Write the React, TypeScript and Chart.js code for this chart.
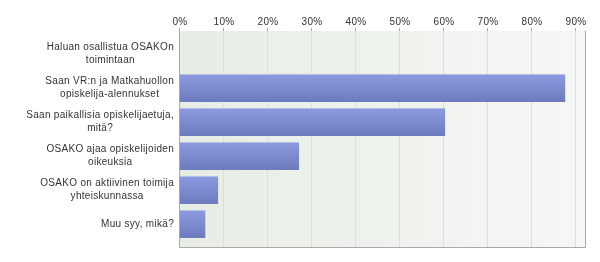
import React, { useEffect, useRef } from "react";
import { Chart, registerables } from "chart.js";

Chart.register(...registerables);

const categories: string[][] = [
  ["Haluan osallistua OSAKOn", "toimintaan"],
  ["Saan VR:n ja Matkahuollon", "opiskelija-alennukset"],
  ["Saan paikallisia opiskelijaetuja,", "mitä?"],
  ["OSAKO ajaa opiskelijoiden", "oikeuksia"],
  ["OSAKO on aktiivinen toimija", "yhteiskunnassa"],
  ["Muu syy, mikä?"],
];
const values: number[] = [0, 87.8, 60.5, 27.3, 8.9, 6.0];
const tickValues: number[] = [0, 10, 20, 30, 40, 50, 60, 70, 80, 90];
const axisMax = 92.5;

const FONT = '10px "Liberation Sans", Arial, sans-serif';
const TEXT = "#333333";

const decorPlugin = {
  id: "decor",
  beforeDatasetsDraw(chart: any) {
    const { ctx, chartArea } = chart;
    const x = chart.scales.x;
    const top = chartArea.top - 6;
    const bottom = chartArea.bottom + 6;
    const left = chartArea.left;
    const right = chartArea.right;
    ctx.save();
    const g = ctx.createLinearGradient(left, 0, right, 0);
    g.addColorStop(0, "#e7ede5");
    g.addColorStop(1, "#f5f7f4");
    ctx.fillStyle = g;
    ctx.fillRect(left, top, right - left, bottom - top);
    ctx.strokeStyle = "#dcdedb";
    ctx.lineWidth = 1;
    for (const v of tickValues) {
      if (v === 0) continue;
      const px = Math.round(x.getPixelForValue(v)) + 0.5;
      ctx.beginPath();
      ctx.moveTo(px, top);
      ctx.lineTo(px, bottom);
      ctx.stroke();
    }
    // tick marks above plot
    ctx.strokeStyle = "#a8a8a8";
    for (const v of tickValues) {
      const px = Math.round(x.getPixelForValue(v)) + 0.5;
      ctx.beginPath();
      ctx.moveTo(px, top - 3);
      ctx.lineTo(px, top);
      ctx.stroke();
    }
    // tick labels
    ctx.fillStyle = TEXT;
    ctx.font = FONT;
    (ctx as any).letterSpacing = "0.3px";
    ctx.textAlign = "center";
    ctx.textBaseline = "middle";
    for (const v of tickValues) {
      const px = x.getPixelForValue(v);
      ctx.fillText(v + "%", px + 1, top - 9);
    }
    ctx.restore();
  },
  afterDatasetsDraw(chart: any) {
    const { ctx, chartArea } = chart;
    const y = chart.scales.y;
    const top = chartArea.top - 6;
    const bottom = chartArea.bottom + 6;
    const left = Math.round(chartArea.left) + 0.5;
    const right = Math.round(chartArea.right) - 0.5;
    ctx.save();
    ctx.strokeStyle = "#a9a9a9";
    ctx.lineWidth = 1;
    ctx.beginPath();
    ctx.moveTo(left, top);
    ctx.lineTo(left, bottom + 0.5);
    ctx.lineTo(right, bottom + 0.5);
    ctx.lineTo(right, top);
    ctx.stroke();
    // category labels
    ctx.font = FONT;
    (ctx as any).letterSpacing = "0.3px";
    ctx.fillStyle = TEXT;
    ctx.textAlign = "center";
    ctx.textBaseline = "middle";
    const rightEdge = 174;
    const lh = 13;
    categories.forEach((lines, i) => {
      const cy = y.getPixelForValue(i);
      const w = Math.max(...lines.map((l) => ctx.measureText(l).width));
      const cx = rightEdge - w / 2;
      const start = cy - ((lines.length - 1) * lh) / 2;
      lines.forEach((l, j) => ctx.fillText(l, cx, start + j * lh));
    });
    ctx.restore();
  },
};

export default function App() {
  const ref = useRef<HTMLCanvasElement | null>(null);
  useEffect(() => {
    if (!ref.current) return;
    const chart = new Chart(ref.current, {
      type: "bar",
      data: {
        labels: categories.map((c) => c.join(" ")),
        datasets: [
          {
            data: values,
            barThickness: 28,
            backgroundColor: (context: any) => {
              const ch = context.chart;
              const ys = ch.scales.y;
              if (!ys || !ch.chartArea) return "#7d8cd2";
              const cy = ys.getPixelForValue(context.dataIndex);
              const g = ch.ctx.createLinearGradient(0, cy - 14, 0, cy + 14);
              g.addColorStop(0, "#8c9be0");
              g.addColorStop(1, "#6c7bbd");
              return g;
            },
            borderColor: "#c3cbee",
            borderWidth: { top: 1, right: 0, bottom: 0, left: 0 },
            borderSkipped: false,
          } as any,
        ],
      },
      options: {
        indexAxis: "y",
        animation: false,
        responsive: false,
        maintainAspectRatio: false,
        layout: { padding: { top: 37, bottom: 21, left: 0, right: 14 } },
        plugins: { legend: { display: false }, tooltip: { enabled: false } },
        scales: {
          x: {
            min: 0,
            max: axisMax,
            display: false,
            grid: { display: false },
          },
          y: {
            type: "category",
            offset: true,
            grid: { display: false },
            border: { display: false },
            ticks: { display: false },
            afterFit: (scale: any) => {
              scale.width = 179;
            },
          },
        },
      },
      plugins: [decorPlugin],
    });
    return () => chart.destroy();
  }, []);
  return (
    <div style={{ position: "fixed", left: 0, top: 0, width: 600, height: 262, background: "#ffffff" }}>
      <canvas ref={ref} width={600} height={262} style={{ width: 600, height: 262 }} />
    </div>
  );
}
